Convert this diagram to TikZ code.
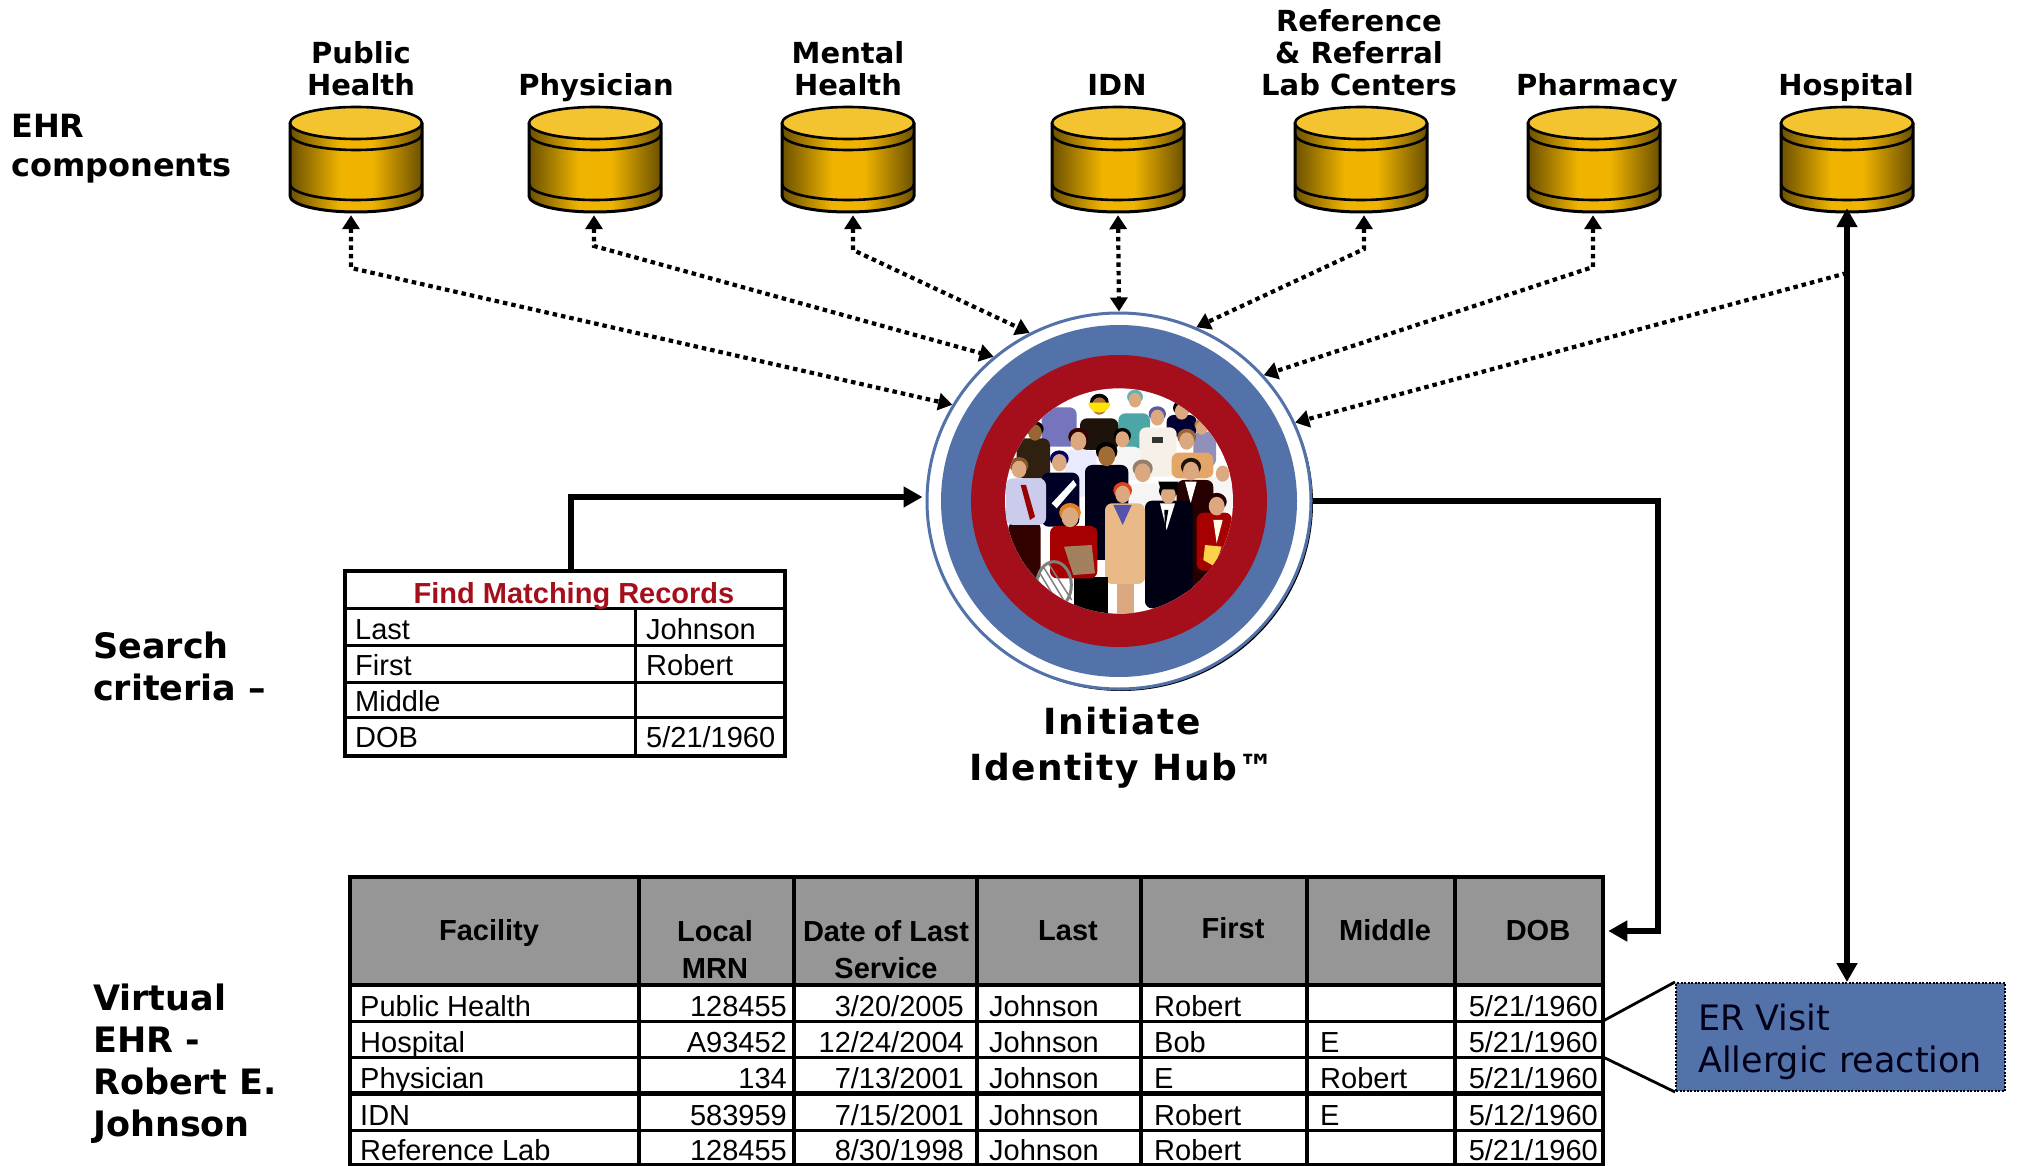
\documentclass[tikz,border=0pt]{standalone}
\usepackage{fontspec}
\setmainfont{Liberation Sans}
\newfontfamily\hd{DejaVu Sans}
\newfontfamily\hdw{DejaVu Sans}[LetterSpace=4]
\usetikzlibrary{arrows.meta,shapes.geometric,calc}
\definecolor{hubblue}{HTML}{5472AA}
\definecolor{hubred}{HTML}{A50F1C}
\definecolor{goldtop}{HTML}{F4C430}
\definecolor{goldmid}{HTML}{F0B400}
\definecolor{golddark}{HTML}{6B5000}
\definecolor{headgray}{HTML}{969696}
\definecolor{skin}{HTML}{DCA880}
\pgfdeclarehorizontalshading{goldband}{100bp}{color(0bp)=(golddark); color(25bp)=(golddark); color(44bp)=(goldmid); color(56bp)=(goldmid); color(75bp)=(golddark); color(100bp)=(golddark)}
\tikzset{
  x=1pt,y=-1pt,
  dotarrow/.style={line width=4.2pt,dash pattern=on 4.5pt off 4pt,{Triangle[length=14pt,width=17pt]}-{Triangle[length=14pt,width=17pt]}},
  dotline/.style={line width=4.2pt,dash pattern=on 4.5pt off 4pt,-{Triangle[length=14pt,width=17pt]}},
  thickarrow/.style={line width=5.5pt,-{Triangle[length=19pt,width=20pt]}},
  boththick/.style={line width=5.5pt,{Triangle[length=19pt,width=20pt]}-{Triangle[length=19pt,width=20pt]}},
  lbl/.style={inner sep=0pt,anchor=south,text depth=0pt,align=center,font=\hd\bfseries\fontsize{29}{32}\selectfont},
  side/.style={inner sep=0pt,anchor=south west,text depth=0pt,align=left,font=\hd\bfseries\fontsize{35}{42}\selectfont},
  anchorbox/.style={inner sep=0pt,minimum width=134pt,minimum height=109pt},
  tl/.style={inner sep=0pt,anchor=base west,font=\fontsize{29}{30}\selectfont},
  tr/.style={inner sep=0pt,anchor=base east,font=\fontsize{29}{30}\selectfont},
  th/.style={inner sep=0pt,anchor=base,font=\bfseries\fontsize{29}{37}\selectfont},
  rowline/.style={line width=3pt},
}
\newcommand{\cyl}[2]{%
  \shade[shading=goldband]
    (#1-66,123) -- (#1-66,196) arc[start angle=180,end angle=0,x radius=66,y radius=16] -- (#1+66,123) -- cycle;
  \draw[line width=3pt] (#1-66,123) -- (#1-66,196) arc[start angle=180,end angle=0,x radius=66,y radius=16] -- (#1+66,123);
  \draw[line width=2.6pt,fill=goldtop] (#1,123) ellipse[x radius=66,y radius=16];
  \draw[line width=2.6pt] (#1-66,134) arc[start angle=180,end angle=0,x radius=66,y radius=16];
  \draw[line width=2.6pt] (#1-66,184) arc[start angle=180,end angle=0,x radius=66,y radius=16];
  \node[anchorbox] (#2) at (#1,161.5) {};
}
\newcommand{\bodyp}[5]{\fill[#1,rounded corners=7pt] (#2,#3) rectangle (#4,#5);}
\newcommand{\headp}[5][skin]{%
  \fill[#2] ({#3},{#4-.35*#5}) ellipse[x radius=#5*1.08,y radius=#5*.95];
  \fill[#1] ({#3},{#4+.12*#5}) ellipse[x radius=#5*.85,y radius=#5];}
\begin{document}
\begin{tikzpicture}
\useasboundingbox (0,0) rectangle (2019,1166);

% cylinders
\cyl{356}{c1}\cyl{595}{c2}\cyl{848}{c3}\cyl{1118}{c4}\cyl{1361}{c5}\cyl{1594}{c6}\cyl{1847}{c7}

% labels
\node[lbl] (l1) at (361,96) {Public\\Health};
\node[lbl] (l2) at (596,96) {Physician};
\node[lbl] (l3) at (848,96) {Mental\\Health};
\node[lbl] (l4) at (1117,96) {IDN};
\node[lbl] (l5) at (1359,96) {Reference\\\& Referral\\Lab Centers};
\node[lbl] (l6) at (1597,96) {Pharmacy};
\node[lbl] (l7) at (1846,96) {Hospital};
\node[side,font=\hd\bfseries\fontsize{32}{39}\selectfont] (s1) at (11,177) {EHR\\components};
\node[side] (s2) at (93,701) {Search\\criteria –};
\node[side] (s3) at (93,1137) {Virtual\\EHR -\\Robert E.\\Johnson};

% hub
\fill[black] (1121,503) ellipse[x radius=192,y radius=188];
\node[draw=hubblue,line width=3pt,fill=white,ellipse,inner sep=0pt,minimum width=384pt,minimum height=376pt] (hub) at (1119,501) {};
\fill[hubblue] (1119,501) ellipse[x radius=178,y radius=176];
\fill[hubred] (1119,501) ellipse[x radius=148,y radius=146];
\begin{scope}[x=0.33333pt,y=-0.33333pt,shift={(900pt,-290pt)}]
  \path[clip] (657,633) ellipse[x radius=342,y radius=338];
  \fill[white] (300,280) rectangle (1010,990);
  % back row
  \bodyp{black!80!blue}{800}{375}{890}{440}
  \headp{black}{845}{362}{24}
  \bodyp{blue!35!gray!80}{425}{352}{530}{470}
  \bodyp{teal!70!white}{655}{370}{750}{475}
  \headp{teal!60}{705}{328}{22}
  \bodyp{black!85!brown}{540}{385}{655}{480}
  \headp[brown!90!black]{black}{598}{345}{26}
  \fill[yellow!85!orange] (565,338) arc[start angle=180,end angle=0,x radius=33,y radius=30] -- cycle;
  \bodyp{blue!25!gray!70}{880}{425}{948}{530}
  \headp{brown}{905}{412}{20}
  \bodyp{white!88!brown}{718}{412}{830}{560}
  \headp{blue!30!gray}{772}{380}{24}
  \fill[black!80] (755,440) rectangle (790,458);
  \bodyp{black!75!brown}{350}{445}{450}{565}
  \headp[brown!80!black]{black}{405}{425}{24}
  \bodyp{white!92!blue}{495}{480}{590}{620}
  \headp{black!80!red}{535}{450}{28}
  \bodyp{white!92!gray}{645}{470}{722}{570}
  \headp{black}{667}{445}{24}
  \bodyp{brown!60!orange!70}{815}{488}{940}{565}
  \headp{brown!80!black}{860}{450}{26}
  % middle row
  \bodyp{black!90!blue}{555}{525}{685}{810}
  \headp[brown!85!black]{black}{620}{495}{30}
  \bodyp{black!85!blue}{425}{548}{538}{710}
  \fill[white] (455,640) -- (520,570) -- (530,585) -- (470,655) -- cycle;
  \headp{blue!40!black}{478}{515}{26}
  \bodyp{black!80!red}{325}{695}{422}{870}
  \bodyp{blue!15!white!85!gray}{318}{565}{438}{705}
  \fill[red!60!black] (362,585) -- (378,585) -- (405,680) -- (390,690) -- cycle;
  \headp{brown!70!black}{357}{535}{26}
  \bodyp{white!92!gray}{915}{560}{998}{665}
  \headp{white}{968}{548}{24}
  \bodyp{white!92!gray}{690}{580}{782}{860}
  \headp{gray!70!brown}{728}{545}{28}
  \bodyp{black!85!red}{830}{570}{940}{905}
  \fill[white] (855,575) -- (890,575) -- (872,640) -- cycle;
  \headp{black!85!brown}{873}{540}{28}
  % front row
  \bodyp{black!92!blue}{735}{632}{878}{955}
  \fill[white] (780,640) -- (825,640) -- (800,720) -- cycle;
  \fill[black] (793,660) -- (805,660) -- (795,720) -- cycle;
  \headp{black}{805}{612}{26}
  \fill[black] (775,575) -- (835,575) -- (828,598) -- (782,598) -- cycle;
  \bodyp{red!65!black}{890}{668}{996}{842}
  \fill[white!90!yellow] (940,690) -- (968,690) -- (950,760) -- cycle;
  \fill[yellow!55!orange!70] (915,765) -- (965,770) -- (945,830) -- (910,810) -- cycle;
  \headp{black!85!red}{950}{645}{28}
  \fill[skin] (650,870) rectangle (702,972);
  \bodyp{brown!60!orange!55!white}{615}{640}{735}{882}
  \fill[blue!35!gray] (640,645) -- (695,645) -- (668,705) -- cycle;
  \headp{red!50!brown}{668}{610}{26}
  \fill[black] (522,860) rectangle (625,970);
  \bodyp{red!65!black}{450}{708}{592}{865}
  \headp{orange!50!brown}{510}{678}{30}
  \fill[brown!55!gray] (492,770) -- (575,765) -- (585,850) -- (520,855) -- cycle;
  \draw[gray,line width=3pt] (462,885) ellipse[x radius=52,y radius=70];
  \draw[gray,line width=1.5pt] (430,830) -- (500,945) (445,820) -- (515,930) (420,850) -- (480,950);
\end{scope}
\node[inner sep=0pt,align=center,font=\hdw\bfseries\fontsize{36}{46}\selectfont,text depth=0pt,anchor=south] (hubname) at (1122,781) {Initiate\\Identity Hub™};

% spokes
\coordinate (b1) at (351,268);
\coordinate (b2) at (594,246);
\coordinate (b3) at (853,250);
\coordinate (b5) at (1364,249);
\coordinate (b6) at (1593,267);
\coordinate (hs) at (1847,273);
\draw[dotarrow] ([xshift=-5pt,yshift=1pt]c1.south) -- (b1) -- (hub.150);
\draw[dotarrow] ([xshift=-1pt,yshift=1pt]c2.south) -- (b2) -- (hub.131);
\draw[dotarrow] ([xshift=5pt,yshift=1pt]c3.south) -- (b3) -- (hub.118);
\draw[dotarrow] ([yshift=1pt]c4.south) -- (hub.north);
\draw[dotarrow] ([xshift=3pt,yshift=1pt]c5.south) -- (b5) -- (hub.66);
\draw[dotarrow] ([xshift=-1pt,yshift=1pt]c6.south) -- (b6) -- (hub.41);
\draw[dotline] (hs) -- (hub.24);

% search table
\node[draw,line width=4pt,inner sep=0pt,minimum width=440pt,minimum height=185pt] (find) at (565,663.5) {};
\draw[rowline] (345,608) -- (785,608) (345,645) -- (785,645) (345,682) -- (785,682) (345,717) -- (785,717) (635,608) -- (635,756);
\node[th,text=hubred] (ft) at (574,603) {Find Matching Records};
\node[tl] (f1) at (355,639) {Last};
\node[tl] (f2) at (355,675) {First};
\node[tl] (f3) at (355,711) {Middle};
\node[tl] (f4) at (355,747) {DOB};
\node[tl] (v1) at (646,639) {Johnson};
\node[tl] (v2) at (646,675) {Robert};
\node[tl] (v4) at (646,747) {5/21/1960};

% main table
\node[fill=headgray,inner sep=0pt,minimum width=1253pt,minimum height=108pt] (mth) at (976.5,931) {};
\node[draw,line width=4.5pt,inner sep=0pt,minimum width=1253pt,minimum height=288pt] (mt) at (976.5,1021) {};
\draw[line width=4pt] (350,985) -- (1603,985);
\draw[rowline] (350,1021) -- (1603,1021) (350,1057) -- (1603,1057) (350,1130) -- (1603,1130);
\draw[line width=5pt] (350,1093) -- (1603,1093);
\draw[line width=3.5pt] (639,877) -- (639,1166) (794,877) -- (794,1166) (977,877) -- (977,1166) (1141,877) -- (1141,1166) (1307,877) -- (1307,1166) (1455,877) -- (1455,1166);
\node[th] (h1) at (489,940) {Facility};
\node[th,align=center,text depth=0pt,anchor=south] (h2) at (715,979) {Local\\MRN};
\node[th,align=center,text depth=0pt,anchor=south] (h3) at (886,979) {Date of Last\\Service};
\node[th] (h4) at (1068,940) {Last};
\node[th] (h5) at (1233,938) {First};
\node[th] (h6) at (1385,940) {Middle};
\node[th] (h7) at (1538,940) {DOB};
% rows
\node[tl] (a1) at (360,1016) {Public Health};
\node[tr] (a2) at (787,1016) {128455};
\node[tr] (a3) at (964,1016) {3/20/2005};
\node[tl] (a4) at (989,1016) {Johnson};
\node[tl] (a5) at (1154,1016) {Robert};
\node[tr] (a7) at (1598,1016) {5/21/1960};
\node[tl] (d1) at (360,1052) {Hospital};
\node[tr] (d2) at (787,1052) {A93452};
\node[tr] (d3) at (964,1052) {12/24/2004};
\node[tl] (d4) at (989,1052) {Johnson};
\node[tl] (d5) at (1154,1052) {Bob};
\node[tl] (d6) at (1320,1052) {E};
\node[tr] (d7) at (1598,1052) {5/21/1960};
\node[tl] (e1) at (360,1088) {Physician};
\node[tr] (e2) at (787,1088) {134};
\node[tr] (e3) at (964,1088) {7/13/2001};
\node[tl] (e4) at (989,1088) {Johnson};
\node[tl] (e5) at (1154,1088) {E};
\node[tl] (e6) at (1320,1088) {Robert};
\node[tr] (e7) at (1598,1088) {5/21/1960};
\node[tl] (g1) at (360,1125) {IDN};
\node[tr] (g2) at (787,1125) {583959};
\node[tr] (g3) at (964,1125) {7/15/2001};
\node[tl] (g4) at (989,1125) {Johnson};
\node[tl] (g5) at (1154,1125) {Robert};
\node[tl] (g6) at (1320,1125) {E};
\node[tr] (g7) at (1598,1125) {5/12/1960};
\node[tl] (k1) at (360,1160) {Reference Lab};
\node[tr] (k2) at (787,1160) {128455};
\node[tr] (k3) at (964,1160) {8/30/1998};
\node[tl] (k4) at (989,1160) {Johnson};
\node[tl] (k5) at (1154,1160) {Robert};
\node[tr] (k7) at (1598,1160) {5/21/1960};

% ER box
\node[draw,fill=hubblue,line width=2pt,dash pattern=on 2pt off 1.5pt,inner sep=0pt,minimum width=329pt,minimum height=108pt] (er) at (1840.5,1037) {};
\node[inner sep=0pt,anchor=south west,text depth=0pt,align=left,text=black!90!blue,font=\hd\fontsize{35}{42}\selectfont] (ert) at (1698,1073) {ER Visit\\Allergic reaction};
\coordinate (t1) at (1603,1021);
\coordinate (t2) at (1603,1057);
\draw[line width=2.8pt] (t1) -- (er.north west);
\draw[line width=2.8pt] (t2) -- (er.south west);

% solid connectors
\coordinate (fu) at (571,571);
\coordinate (hr) at (1658,931);
\draw[thickarrow] (fu) |- ([yshift=4pt,xshift=-3pt]hub.west);
\draw[thickarrow] (hub.east) -| (hr) -- ([xshift=3pt]mt.east |- hr);
\draw[boththick] ([yshift=8pt]c7.south) -- (er.north -| c7.south);
\end{tikzpicture}
\end{document}
